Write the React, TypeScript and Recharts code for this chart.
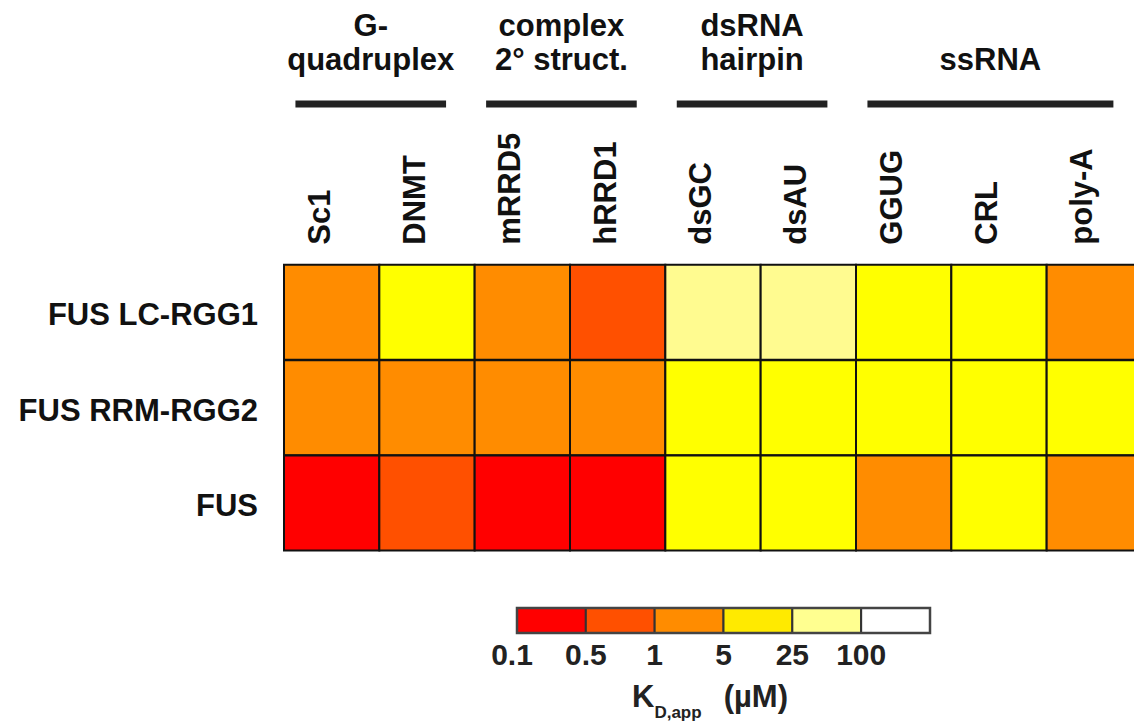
import { BarChart, Bar, Cell, XAxis, YAxis, Legend } from "recharts";

// RNA substrates (columns) and protein constructs (rows)
const columns = ["Sc1", "DNMT", "mRRD5", "hRRD1", "dsGC", "dsAU", "GGUG", "CRL", "poly-A"];
const rows = ["FUS LC-RGG1", "FUS RRM-RGG2", "FUS"];

// column groups shown above the heatmap
const groupLabels = [["G-", "quadruplex"], ["complex", "2° struct."], ["dsRNA", "hairpin"], ["ssRNA"]];
const groupSizes = [2, 2, 2, 3];

// apparent KD (µM), read by colour bin
const kdLC = [2, 10, 2, 0.7, 50, 50, 10, 10, 2];
const kdRRM = [2, 2, 2, 2, 10, 10, 10, 10, 10];
const kdFUS = [0.3, 0.7, 0.3, 0.3, 10, 10, 2, 10, 2];
const kdTable = [kdLC, kdRRM, kdFUS];

// colour scale
const binEdges = [0.1, 0.5, 1, 5, 25, 100];
const binColors = ["#ff0000", "#ff5000", "#ff8c00", "#ffff00", "#fffb90", "#ffffff"];
const legendColors = ["#ff0000", "#ff5000", "#ff8c00", "#ffea00", "#ffff90", "#ffffff"];
const legendTicks = ["0.1", "0.5", "1", "5", "25", "100"];

const W = 1150;
const H = 721;
const LEFT = 284;
const RIGHT = 8;
const UNIT = (W - LEFT - RIGHT) / columns.length;
const FONT = "'Liberation Sans', Arial, Helvetica, sans-serif";

const colorFor = (kd: number) => {
  let idx = 0;
  binEdges.forEach((e, i) => {
    if (kd >= e) idx = i;
  });
  return binColors[idx];
};

// every cell is one column wide; stacking gives the grid
const data = rows.map((r) => {
  const d: Record<string, string | number> = { row: r };
  columns.forEach((c) => (d[c] = 1));
  return d;
});

const groupStarts = groupSizes.map((_, i) => groupSizes.slice(0, i).reduce((a, b) => a + b, 0));

// group header drawn from the tick of a group's first column
const GroupHeader = ({ g, x, y }: { g: number; x: number; y: number }) => {
  const left = x - 0.5 * UNIT;
  const x1 = left + 0.12 * UNIT;
  const x2 = left + (groupSizes[g] - 0.3) * UNIT;
  const cx = (x1 + x2) / 2;
  const lines = groupLabels[g];
  return (
    <g>
      <line x1={x1} x2={x2} y1={y} y2={y} stroke="#222" strokeWidth={7} />
      {lines.map((t, i) => (
        <text
          key={t}
          x={cx}
          y={y - 34 - (lines.length - 1 - i) * 34}
          textAnchor="middle"
          fontFamily={FONT}
          fontWeight="bold"
          fontSize={31}
          fill="#111"
        >
          {t}
        </text>
      ))}
    </g>
  );
};

const ColumnTick = ({ x, y, payload }: any) => {
  const j = Math.floor(payload.value);
  const g = groupStarts.indexOf(j);
  return (
    <g>
      <text
        x={x}
        y={y}
        dy={-2}
        transform={`rotate(-90, ${x}, ${y})`}
        textAnchor="start"
        fontFamily={FONT}
        fontWeight="bold"
        fontSize={31}
        fill="#111"
      >
        {columns[j]}
      </text>
      {g >= 0 && <GroupHeader g={g} x={x} y={y - 140.7} />}
    </g>
  );
};

const RowTick = ({ x, y, payload }: any) => (
  <text
    x={x}
    y={y}
    dy={13}
    textAnchor="end"
    fontFamily={FONT}
    fontWeight="bold"
    fontSize={31}
    fill="#111"
  >
    {payload.value}
  </text>
);

const ColorBar = () => {
  const x0 = 37;
  const segW = 413 / legendColors.length;
  return (
    <svg width={480} height={121}>
      {legendColors.map((c, i) => (
        <rect key={c} x={x0 + i * segW} y={8} width={segW} height={25} fill={c} stroke="#333" strokeWidth={2} />
      ))}
      <rect x={x0} y={8} width={413} height={25} fill="none" stroke="#444" strokeWidth={2.5} />
      {legendTicks.map((t, i) => (
        <text
          key={t}
          x={x0 + i * segW - (i === 0 ? 5 : 0)}
          y={65}
          textAnchor="middle"
          fontFamily={FONT}
          fontWeight="bold"
          fontSize={30}
          fill="#222"
        >
          {t}
        </text>
      ))}
      <text x={152} y={107} fontFamily={FONT} fontWeight="bold" fontSize={31} fill="#222">
        <tspan>K</tspan>
        <tspan fontSize={17} dy={11}>D,app</tspan>
        <tspan dy={-11} dx={22}>(µM)</tspan>
      </text>
    </svg>
  );
};

export default function App() {
  return (
    <div style={{ position: "absolute", left: 0, top: 0, width: 1134, height: 721, overflow: "hidden", background: "#fff" }}>
      <BarChart
        width={W}
        height={H}
        data={data}
        layout="vertical"
        barCategoryGap={0}
        barGap={0}
        margin={{ top: 204.7, right: RIGHT, bottom: 170, left: 0 }}
      >
        <XAxis
          xAxisId="col"
          type="number"
          orientation="top"
          domain={[0, columns.length]}
          ticks={columns.map((_, i) => i + 0.5)}
          interval={0}
          height={60}
          axisLine={false}
          tickLine={false}
          tickSize={0}
          tickMargin={20}
          tick={<ColumnTick />}
        />
        <YAxis
          type="category"
          dataKey="row"
          width={LEFT}
          axisLine={false}
          tickLine={false}
          tickSize={0}
          tickMargin={26}
          tick={<RowTick />}
        />
        {columns.map((c, j) => (
          <Bar key={c} dataKey={c} stackId="grid" xAxisId="col" isAnimationActive={false} stroke="#111" strokeWidth={2}>
            {rows.map((r, i) => (
              <Cell key={r} fill={colorFor(kdTable[i][j])} />
            ))}
          </Bar>
        ))}
        <Legend
          layout="horizontal"
          verticalAlign="middle"
          align="center"
          content={() => <ColorBar />}
          wrapperStyle={{ top: 600, left: 480, width: 480, height: 121 }}
        />
      </BarChart>
    </div>
  );
}
